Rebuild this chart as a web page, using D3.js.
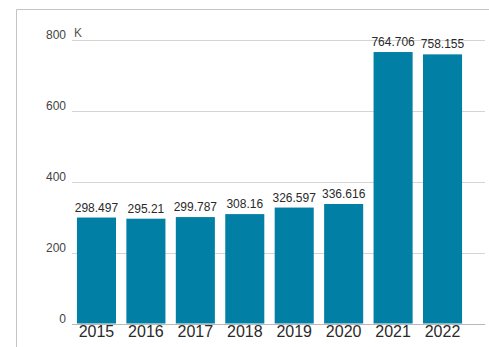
<!DOCTYPE html>
<html>
<head>
<meta charset="utf-8">
<script src="https://cdn.jsdelivr.net/npm/d3@7"></script>
<style>
  body { margin: 0; background: #fff; }
  svg { display: block; font-family: "Liberation Sans", Arial, sans-serif; }
</style>
</head>
<body>
<div id="chart_wrapper"></div>
<script>
var years = ["2015", "2016", "2017", "2018", "2019", "2020", "2021", "2022"];
var values = [298.497, 295.21, 299.787, 308.16, 326.597, 336.616, 764.706, 758.155];
var yTicks = [0, 200, 400, 600, 800];

var wrapperWidth = 489,
    wrapperHeight = 347;

var svg = d3.select("#chart_wrapper").append("svg")
    .attr("width", wrapperWidth)
    .attr("height", wrapperHeight);

// outer frame (only top and left edges are visible)
svg.append("path")
    .attr("d", "M16.5,347V9.5H489")
    .attr("fill", "none")
    .attr("stroke", "#c4c4c4");

var x = d3.scaleBand()
    .domain(years)
    .range([72, 467])
    .paddingInner(0.21)
    .paddingOuter(0.1);

var y = d3.scaleLinear()
    .domain([0, 800])
    .range([323.5, 39.5]);

// gridlines
svg.append("g")
    .selectAll("line")
    .data(yTicks)
    .enter().append("line")
      .attr("x1", 72)
      .attr("x2", 485)
      .attr("y1", function(d) { return Math.round(y(d)) + 0.5; })
      .attr("y2", function(d) { return Math.round(y(d)) + 0.5; })
      .attr("stroke", function(d) { return d == 0 ? "#b8b8b8" : "#d4d4d4"; });

// y labels
svg.append("g")
    .selectAll("text")
    .data(yTicks)
    .enter().append("text")
      .attr("x", 66)
      .attr("y", function(d) { return y(d) - 1; })
      .attr("text-anchor", "end")
      .attr("font-size", 12)
      .attr("fill", "#444")
      .text(function(d) { return d; });

svg.append("text")
    .attr("x", 74)
    .attr("y", 37)
    .attr("font-size", 12)
    .attr("fill", "#555")
    .text("K");

// bars
svg.append("g")
    .selectAll("rect")
    .data(values)
    .enter().append("rect")
      .attr("x", function(d, i) { return x(years[i]); })
      .attr("y", function(d) { return y(d); })
      .attr("width", x.bandwidth())
      .attr("height", function(d) { return y(0) - y(d); })
      .attr("fill", "#027fa5");

// value labels
svg.append("g")
    .selectAll("text")
    .data(values)
    .enter().append("text")
      .attr("x", function(d, i) { return x(years[i]) + x.bandwidth() / 2; })
      .attr("y", function(d) { return y(d) - 6; })
      .attr("text-anchor", "middle")
      .attr("font-size", 12)
      .attr("fill", "#2a2a2a")
      .text(function(d) { return d; });

// x labels
svg.append("g")
    .selectAll("text")
    .data(years)
    .enter().append("text")
      .attr("x", function(d) { return x(d) + x.bandwidth() / 2; })
      .attr("y", 337)
      .attr("text-anchor", "middle")
      .attr("font-size", 16)
      .attr("fill", "#2a2a2a")
      .text(function(d) { return d; });
</script>
</body>
</html>
